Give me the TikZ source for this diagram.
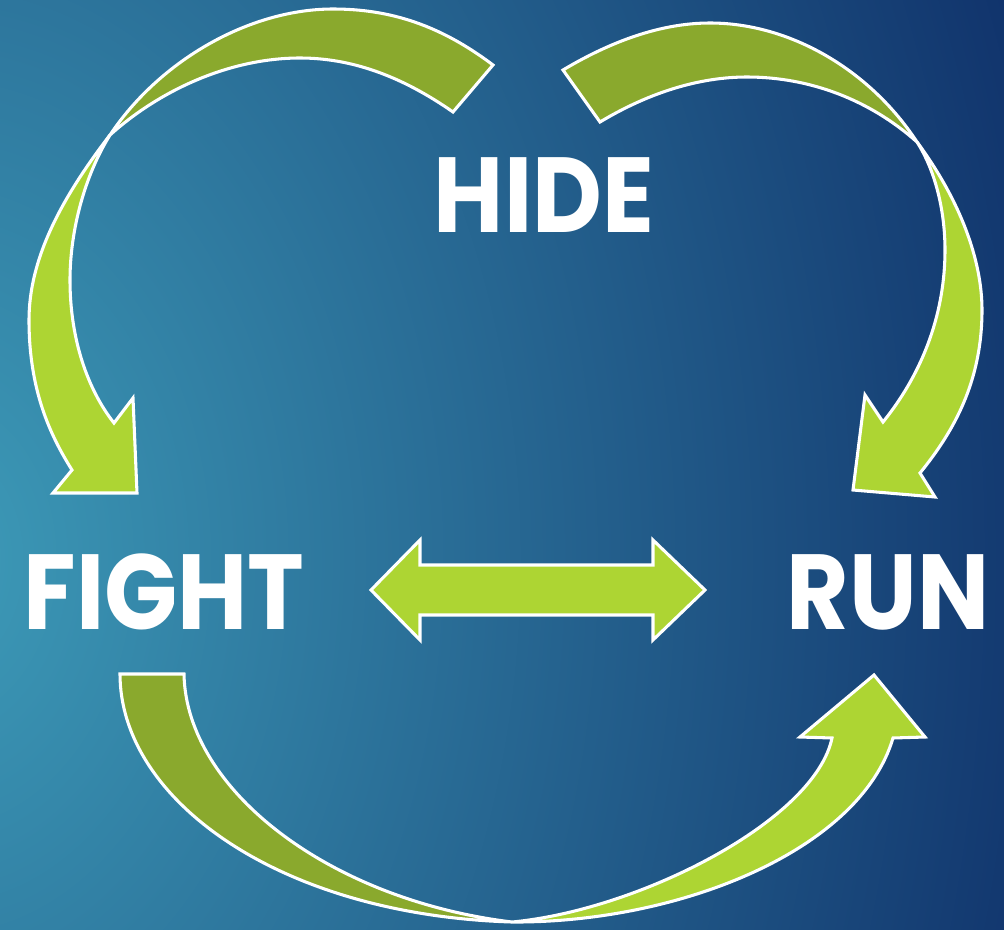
\documentclass[tikz,border=0pt]{standalone}
\usepackage{fontspec}
\newfontfamily\wordfont{Poppins}[FakeStretch=0.9]
\definecolor{bginner}{HTML}{3D9BB8}
\definecolor{bgouter}{HTML}{10326B}
\definecolor{leaflight}{HTML}{ADD533}
\definecolor{leafdark}{HTML}{8AA92D}
\begin{document}
\begin{tikzpicture}
    [x=0.75pt,y=-0.75pt,
    front/.style={fill=leaflight,draw=white,line width=2.3pt,line join=miter},
    back/.style={fill=leafdark,draw=white,line width=2.3pt,line join=miter},
    word/.style={text=white,font=\wordfont\fontsize{80}{80}\selectfont\bfseries,inner sep=0pt}]
    \useasboundingbox (0,0) rectangle (1004,929);
    %background
    \begin{scope}
        \clip (0,0) rectangle (1004,929);
        \shade[inner color=bginner,outer color=bgouter] (-60,560) ellipse [x radius=870pt,y radius=1200pt];
    \end{scope}
    %hide to fight
    \draw[back] (110,135) .. controls (160,60) and (250,9) .. (333,9) .. controls (390,9) and (440,25) .. (493,65) -- (453,112) .. controls (400,75) and (350,58) .. (300,58) .. controls (230,58) and (160,90) .. cycle;
    \draw[front] (110,135) .. controls (60,200) and (29,260) .. (29,320) .. controls (29,390) and (50,435) .. (72,470) -- (53,493) -- (137,493) -- (133,398) -- (114,423) .. controls (88,390) and (70,340) .. (70,280) .. controls (70,230) and (85,175) .. cycle;
    %hide to run
    \draw[back] (917,142) .. controls (870,70) and (790,23) .. (710,23) .. controls (660,23) and (610,42) .. (563,70) -- (600,122) .. controls (650,92) and (700,77) .. (747,77) .. controls (810,77) and (870,100) .. cycle;
    \draw[front] (917,142) .. controls (960,200) and (982,260) .. (982,310) .. controls (982,380) and (955,430) .. (920,473) -- (935,497) -- (853,490) -- (865,395) -- (883,422) .. controls (925,370) and (945,310) .. (945,250) .. controls (945,210) and (935,170) .. cycle;
    %fight to run
    \draw[back] (120,674) -- (184,674) .. controls (186,790) and (330,900) .. (512,922) .. controls (280,915) and (120,800) .. cycle;
    \draw[front] (512,922) .. controls (680,923) and (860,850) .. (893,738) -- (925,737) -- (874,675) -- (800,737) -- (832,738) .. controls (815,820) and (640,910) .. cycle;
    %both ways
    \draw[front] (371,590) -- (420,540) -- (420,565) -- (653,565) -- (653,540) -- (705,590) -- (653,640) -- (653,615) -- (420,615) -- (420,640) -- cycle;
    %labels
    \node[word] (hide) at (544,195) {HIDE};
    \node[word] (fight) at (164,592) {FIGHT};
    \node[word] (run) at (888,592) {RUN};
\end{tikzpicture}
\end{document}
